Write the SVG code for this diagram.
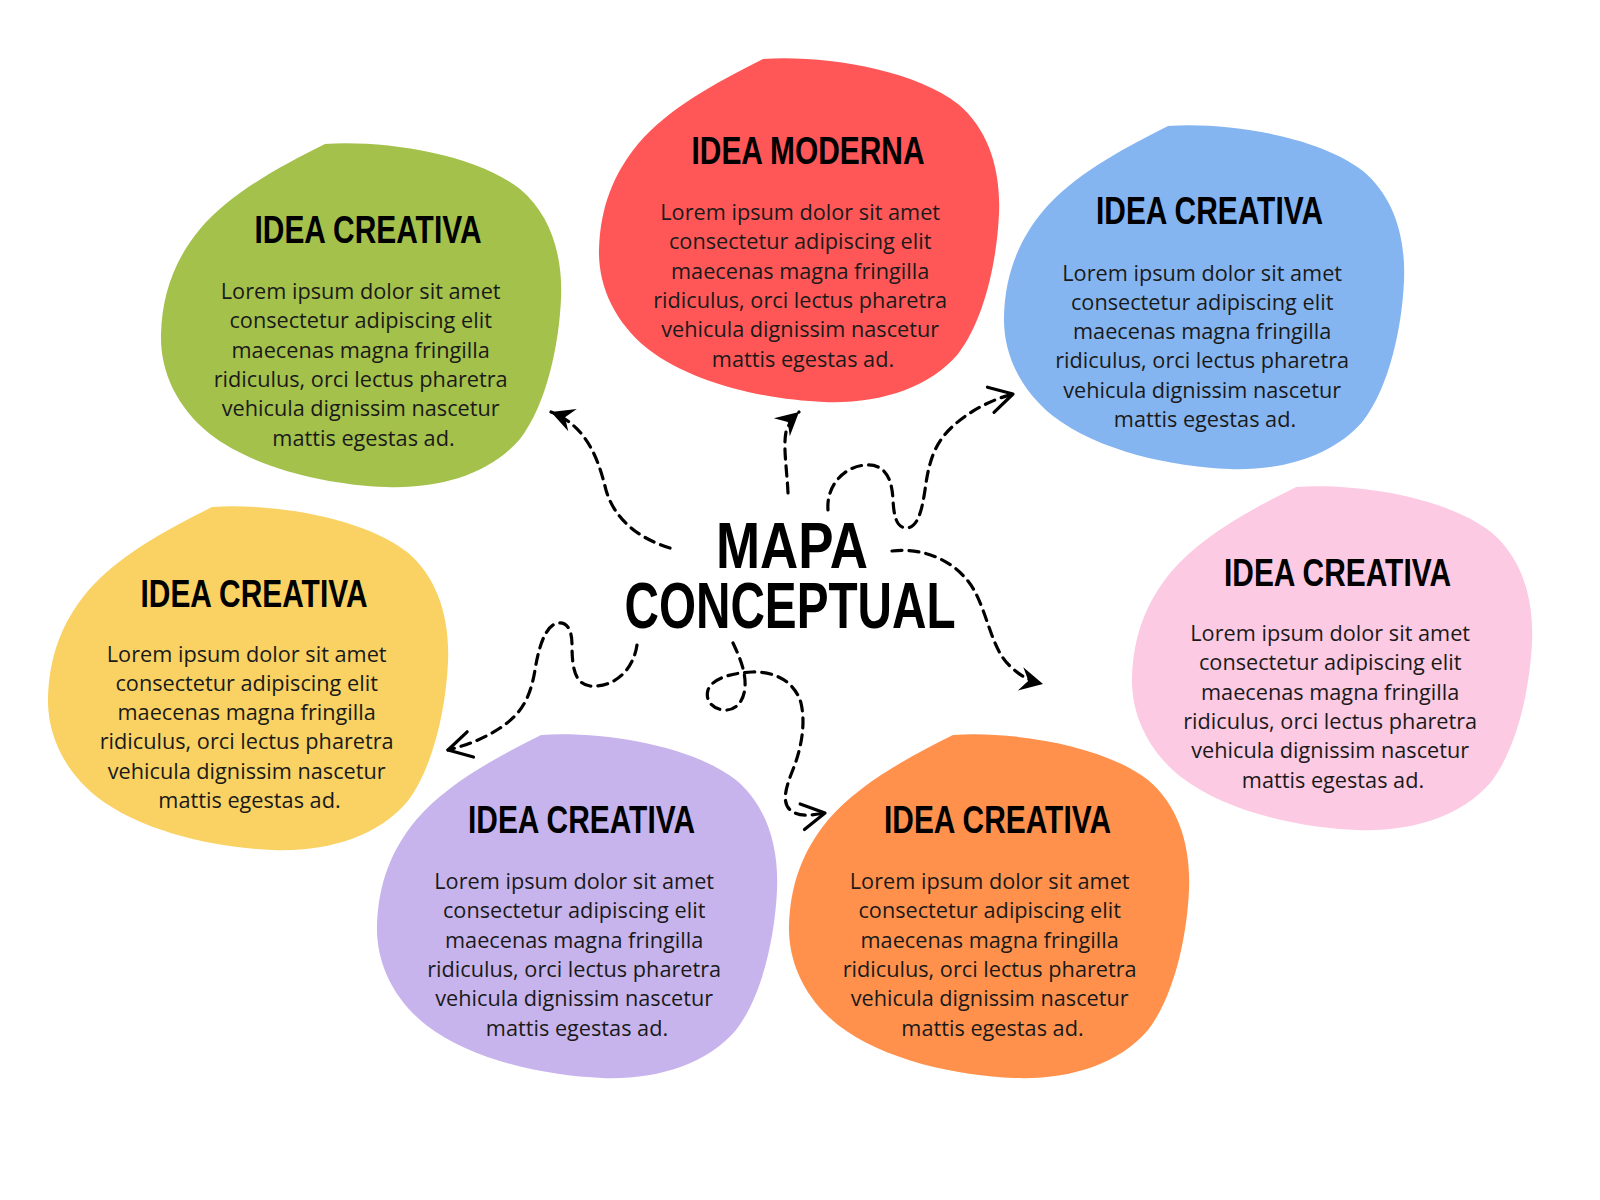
<svg xmlns="http://www.w3.org/2000/svg" xmlns:xlink="http://www.w3.org/1999/xlink" width="1600" height="1200" viewBox="0 0 1600 1200">
  <style>
    .title { font-family: "Liberation Sans", Arial, sans-serif; font-weight: bold; font-size: 39px; fill: #000; }
    .body { font-family: "Open Sans", "Liberation Sans", sans-serif; font-size: 21.7px; fill: #1a1a1a; }
    .center { font-family: "Liberation Sans", Arial, sans-serif; font-weight: bold; font-size: 64px; fill: #000; }
    .conn { fill: none; stroke: #000; stroke-width: 3.2; stroke-dasharray: 10 7; stroke-linecap: round; }
  </style>
  <defs>
    <path id="blob" d="M0,0 C60,-4 150,10 195,45 C225,70 238,110 236,155 C234,200 222,260 195,295 C165,330 115,345 61,343 C5,341 -70,325 -115,290 C-150,262 -165,225 -164,190 C-163,150 -150,115 -125,85 C-95,50 -50,25 0,0 Z"/>
    <marker id="arrowFill" markerUnits="userSpaceOnUse" markerWidth="50" markerHeight="50" refX="0" refY="0" orient="auto" overflow="visible">
      <path d="M0,0 L-23,-12 L-15,0 L-23,12 Z" fill="#000" stroke="none"/>
    </marker>
    <marker id="arrowOpen" markerUnits="userSpaceOnUse" markerWidth="50" markerHeight="50" refX="0" refY="0" orient="auto" overflow="visible">
      <path d="M-23,-13 L0,0 L-23,13" fill="none" stroke="#000" stroke-width="3.2" stroke-dasharray="none" stroke-linecap="round" stroke-linejoin="round"/>
    </marker>
  </defs>

  <rect x="0" y="0" width="1600" height="1200" fill="#ffffff"/>

  <g id="node-green">
    <use xlink:href="#blob" href="#blob" transform="translate(325,144)" fill="#A4C14B"/>
    <text class="title" x="368" y="243" text-anchor="middle" textLength="227" lengthAdjust="spacingAndGlyphs">IDEA CREATIVA</text>
    <text class="body" text-anchor="middle">
      <tspan x="363.5" y="299">Lorem ipsum dolor sit amet</tspan>
      <tspan x="363.5" dy="29.3">consectetur adipiscing elit</tspan>
      <tspan x="363.5" dy="29.3">maecenas magna fringilla</tspan>
      <tspan x="363.5" dy="29.3">ridiculus, orci lectus pharetra</tspan>
      <tspan x="363.5" dy="29.3">vehicula dignissim nascetur</tspan>
      <tspan x="363.5" dy="29.3">mattis egestas ad.</tspan>
    </text>
  </g>

  <g id="node-red">
    <use xlink:href="#blob" href="#blob" transform="translate(763,59)" fill="#FF5757"/>
    <text class="title" x="808" y="163.5" text-anchor="middle" textLength="233" lengthAdjust="spacingAndGlyphs">IDEA MODERNA</text>
    <text class="body" text-anchor="middle">
      <tspan x="803" y="220">Lorem ipsum dolor sit amet</tspan>
      <tspan x="803" dy="29.3">consectetur adipiscing elit</tspan>
      <tspan x="803" dy="29.3">maecenas magna fringilla</tspan>
      <tspan x="803" dy="29.3">ridiculus, orci lectus pharetra</tspan>
      <tspan x="803" dy="29.3">vehicula dignissim nascetur</tspan>
      <tspan x="803" dy="29.3">mattis egestas ad.</tspan>
    </text>
  </g>

  <g id="node-blue">
    <use xlink:href="#blob" href="#blob" transform="translate(1168,126)" fill="#85B5F0"/>
    <text class="title" x="1209.5" y="224" text-anchor="middle" textLength="227" lengthAdjust="spacingAndGlyphs">IDEA CREATIVA</text>
    <text class="body" text-anchor="middle">
      <tspan x="1205" y="280.5">Lorem ipsum dolor sit amet</tspan>
      <tspan x="1205" dy="29.3">consectetur adipiscing elit</tspan>
      <tspan x="1205" dy="29.3">maecenas magna fringilla</tspan>
      <tspan x="1205" dy="29.3">ridiculus, orci lectus pharetra</tspan>
      <tspan x="1205" dy="29.3">vehicula dignissim nascetur</tspan>
      <tspan x="1205" dy="29.3">mattis egestas ad.</tspan>
    </text>
  </g>

  <g id="node-pink">
    <use xlink:href="#blob" href="#blob" transform="translate(1296,487)" fill="#FCCAE3"/>
    <text class="title" x="1337.5" y="585.5" text-anchor="middle" textLength="227" lengthAdjust="spacingAndGlyphs">IDEA CREATIVA</text>
    <text class="body" text-anchor="middle">
      <tspan x="1333" y="641">Lorem ipsum dolor sit amet</tspan>
      <tspan x="1333" dy="29.3">consectetur adipiscing elit</tspan>
      <tspan x="1333" dy="29.3">maecenas magna fringilla</tspan>
      <tspan x="1333" dy="29.3">ridiculus, orci lectus pharetra</tspan>
      <tspan x="1333" dy="29.3">vehicula dignissim nascetur</tspan>
      <tspan x="1333" dy="29.3">mattis egestas ad.</tspan>
    </text>
  </g>

  <g id="node-yellow">
    <use xlink:href="#blob" href="#blob" transform="translate(212,507)" fill="#F9D263"/>
    <text class="title" x="254" y="607" text-anchor="middle" textLength="227" lengthAdjust="spacingAndGlyphs">IDEA CREATIVA</text>
    <text class="body" text-anchor="middle">
      <tspan x="249.5" y="661.5">Lorem ipsum dolor sit amet</tspan>
      <tspan x="249.5" dy="29.3">consectetur adipiscing elit</tspan>
      <tspan x="249.5" dy="29.3">maecenas magna fringilla</tspan>
      <tspan x="249.5" dy="29.3">ridiculus, orci lectus pharetra</tspan>
      <tspan x="249.5" dy="29.3">vehicula dignissim nascetur</tspan>
      <tspan x="249.5" dy="29.3">mattis egestas ad.</tspan>
    </text>
  </g>

  <g id="node-lavender">
    <use xlink:href="#blob" href="#blob" transform="translate(541,735)" fill="#C8B4EC"/>
    <text class="title" x="581.5" y="833" text-anchor="middle" textLength="227" lengthAdjust="spacingAndGlyphs">IDEA CREATIVA</text>
    <text class="body" text-anchor="middle">
      <tspan x="577" y="889">Lorem ipsum dolor sit amet</tspan>
      <tspan x="577" dy="29.3">consectetur adipiscing elit</tspan>
      <tspan x="577" dy="29.3">maecenas magna fringilla</tspan>
      <tspan x="577" dy="29.3">ridiculus, orci lectus pharetra</tspan>
      <tspan x="577" dy="29.3">vehicula dignissim nascetur</tspan>
      <tspan x="577" dy="29.3">mattis egestas ad.</tspan>
    </text>
  </g>

  <g id="node-orange">
    <use xlink:href="#blob" href="#blob" transform="translate(953,735)" fill="#FF914D"/>
    <text class="title" x="997.5" y="833" text-anchor="middle" textLength="227" lengthAdjust="spacingAndGlyphs">IDEA CREATIVA</text>
    <text class="body" text-anchor="middle">
      <tspan x="992.5" y="889">Lorem ipsum dolor sit amet</tspan>
      <tspan x="992.5" dy="29.3">consectetur adipiscing elit</tspan>
      <tspan x="992.5" dy="29.3">maecenas magna fringilla</tspan>
      <tspan x="992.5" dy="29.3">ridiculus, orci lectus pharetra</tspan>
      <tspan x="992.5" dy="29.3">vehicula dignissim nascetur</tspan>
      <tspan x="992.5" dy="29.3">mattis egestas ad.</tspan>
    </text>
  </g>

  <g id="node-center">
    <text class="center" x="792" y="568" text-anchor="middle" textLength="152" lengthAdjust="spacingAndGlyphs">MAPA</text>
    <text class="center" x="790" y="628" text-anchor="middle" textLength="331" lengthAdjust="spacingAndGlyphs">CONCEPTUAL</text>
  </g>

  <g id="connectors">
    <path class="conn" marker-end="url(#arrowFill)" d="M670,548 C637,538 614,518 606,490 C599,462 588,426 551,412"/>
    <path class="conn" marker-end="url(#arrowFill)" d="M788,493 C787,470 783,447 786,432 Q790,420 799,412"/>
    <path class="conn" marker-end="url(#arrowOpen)" d="M828,510 C826,485 845,466 866,465 C885,464 892,478 893,500 C894,518 897,528 907,528 C918,527 922,510 925,490 C929,460 935,443 952,427 C968,412 990,400 1013,394"/>
    <path class="conn" marker-end="url(#arrowFill)" d="M892,551 C925,547 958,562 974,590 C988,615 992,650 1010,666 C1020,676 1030,681 1043,684"/>
    <path class="conn" marker-end="url(#arrowOpen)" d="M637,645 C633,672 612,688 590,686 C574,684 572,665 572,645 C572,628 566,622 558,623 C546,625 539,645 535,670 C530,700 520,715 500,728 C485,738 468,745 448,750"/>
    <path class="conn" marker-end="url(#arrowOpen)" d="M733,643 C740,658 746,672 745,687 C744,702 735,711 724,710 C712,709 705,700 708,690 C712,679 730,673 752,672 C775,671 795,682 801,703 C806,725 801,750 792,772 C785,790 781,805 793,812 C802,817 813,815 825,813"/>
  </g>
</svg>
